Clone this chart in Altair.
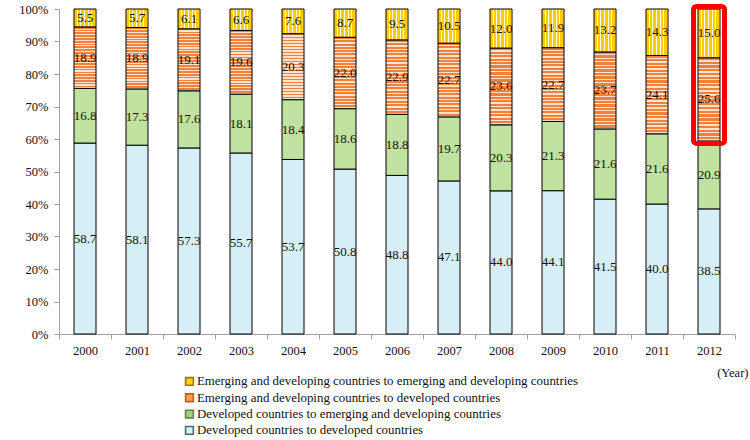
import altair as alt
import pandas as pd

# ---- data ----
years = [str(y) for y in range(2000, 2013)]
dev_to_dev = [58.7, 58.1, 57.3, 55.7, 53.7, 50.8, 48.8, 47.1, 44.0, 44.1, 41.5, 40.0, 38.5]
dev_to_eme = [16.8, 17.3, 17.6, 18.1, 18.4, 18.6, 18.8, 19.7, 20.3, 21.3, 21.6, 21.6, 20.9]
eme_to_dev = [18.9, 18.9, 19.1, 19.6, 20.3, 22.0, 22.9, 22.7, 23.6, 22.7, 23.7, 24.1, 25.6]
eme_to_eme = [5.5, 5.7, 6.1, 6.6, 7.6, 8.7, 9.5, 10.5, 12.0, 11.9, 13.2, 14.3, 15.0]

series_names = [
    "Developed countries to developed countries",
    "Developed countries to emerging and developing countries",
    "Emerging and developing countries to developed countries",
    "Emerging and developing countries to emerging and developing countries",
]
series_values = [dev_to_dev, dev_to_eme, eme_to_dev, eme_to_eme]
highlight_year = "2012"

rows = []
for i, (name, vals) in enumerate(zip(series_names, series_values)):
    for yr, v in zip(years, vals):
        rows.append({"year": yr, "series": name, "order": i, "value": v})
df = pd.DataFrame(rows)

FONT = "Liberation Serif"
AXIS_GREY = "#a0a0a0"


def stripes(c1, c2, n, frac, horizontal):
    stops = []
    for i in range(n):
        a = round(i / n, 5)
        b = round((i + frac) / n, 5)
        c = round((i + 1) / n, 5)
        stops += [
            alt.GradientStop(color=c1, offset=a),
            alt.GradientStop(color=c1, offset=b),
            alt.GradientStop(color=c2, offset=b),
            alt.GradientStop(color=c2, offset=c),
        ]
    if horizontal:  # horizontal stripes -> vertical gradient
        return alt.LinearGradient(gradient="linear", stops=stops, x1=0, y1=0, x2=0, y2=1)
    return alt.LinearGradient(gradient="linear", stops=stops, x1=0, y1=0, x2=1, y2=0)


fills = [
    "#d6eff6",
    "#c0e1a0",
    stripes("#f0803a", "#fde2cc", 22, 0.6, True),
    stripes("#ffcc00", "#fffbe6", 6, 0.7, False),
]

base = (
    alt.Chart(df)
    .transform_stack(
        stack="value",
        as_=["y0", "y1"],
        groupby=["year"],
        sort=[alt.SortField("order", order="ascending")],
        offset="normalize",
    )
    .transform_calculate(mid="(datum.y0 + datum.y1) / 2")
)

x_enc = alt.X(
    "year:N",
    sort=years,
    scale=alt.Scale(paddingInner=0, paddingOuter=0),
    axis=alt.Axis(
        labelAngle=0,
        tickBand="extent",
        domainColor=AXIS_GREY,
        tickColor=AXIS_GREY,
        tickSize=5,
        labelFont=FONT,
        labelFontSize=12.5,
        labelColor="#111",
        labelPadding=5,
        title="(Year)",
        titleFont=FONT,
        titleFontSize=12.5,
        titleFontWeight="normal",
        titleColor="#111",
        titleAnchor="end",
        titleAlign="right",
        titleX=689,
        titleY=38,
        titleBaseline="middle",
    ),
)
y_axis = alt.Axis(
    format=".0%",
    values=[i / 10 for i in range(11)],
    grid=False,
    labelOverlap=False,
    domainColor=AXIS_GREY,
    tickColor=AXIS_GREY,
    tickSize=5,
    labelFont=FONT,
    labelFontSize=12.5,
    labelColor="#111",
    labelPadding=6,
    title=None,
)
y_scale = alt.Scale(domain=[0, 1])


def y_of(field):
    return alt.Y(field, scale=y_scale, axis=y_axis)


layers = []
for i in range(4):
    layers.append(
        base.transform_filter(f"datum.order == {i}")
        .mark_bar(width=22, fill=fills[i], stroke="black", strokeWidth=1)
        .encode(x=x_enc, y=y_of("y0:Q"), y2="y1:Q")
    )

legend_order = list(reversed(series_names))
legend_fills = ["#ffd21f", "#f5a060", "#a8d08a", "#dbeef4"]
legend_strokes = ["#9a7a00", "#c85a14", "#5f8a3a", "#3e6f85"]
leg = dict(
    title=None,
    orient="none",
    legendX=124,
    legendY=366,
    symbolType="square",
    symbolSize=60,
    symbolStrokeWidth=1.6,
    symbolOpacity=1,
    labelFont=FONT,
    labelFontSize=12.9,
    labelColor="#111",
    labelOffset=1,
    labelLimit=0,
    rowPadding=1.3,
    padding=0,
)
legend_layer = base.mark_point(shape="square", filled=True, opacity=0).encode(
    x=x_enc,
    y=y_of("mid:Q"),
    fill=alt.Fill("series:N", scale=alt.Scale(domain=legend_order, range=legend_fills), legend=alt.Legend(**leg)),
    stroke=alt.Stroke("series:N", scale=alt.Scale(domain=legend_order, range=legend_strokes), legend=alt.Legend(**leg)),
)

labels = base.mark_text(font=FONT, fontSize=13, color="#111", baseline="middle").encode(
    x=x_enc,
    y=y_of("mid:Q"),
    text=alt.Text("value:Q", format=".1f"),
)

box = (
    base.transform_filter(f"datum.year == '{highlight_year}' && datum.order >= 2")
    .transform_aggregate(top="max(y1)", bot="min(y0)", groupby=["year"])
    .mark_bar(
        width=31,
        fillOpacity=0,
        stroke="#ff0000",
        strokeWidth=5,
        cornerRadius=3,
        yOffset=-2.5,
        y2Offset=2.5,
    )
    .encode(x=x_enc, y=y_of("top:Q"), y2="bot:Q")
)

chart = (
    alt.layer(*layers, legend_layer, labels, box)
    .properties(
        width=676,
        height=325,
        autosize=alt.AutoSizeParams(type="none"),
        padding={"left": 59, "top": 9, "right": 15, "bottom": 106},
        background="white",
    )
    .configure_view(stroke=None)
)

chart.save("out.html", embed_options={"renderer": "svg", "actions": False})
